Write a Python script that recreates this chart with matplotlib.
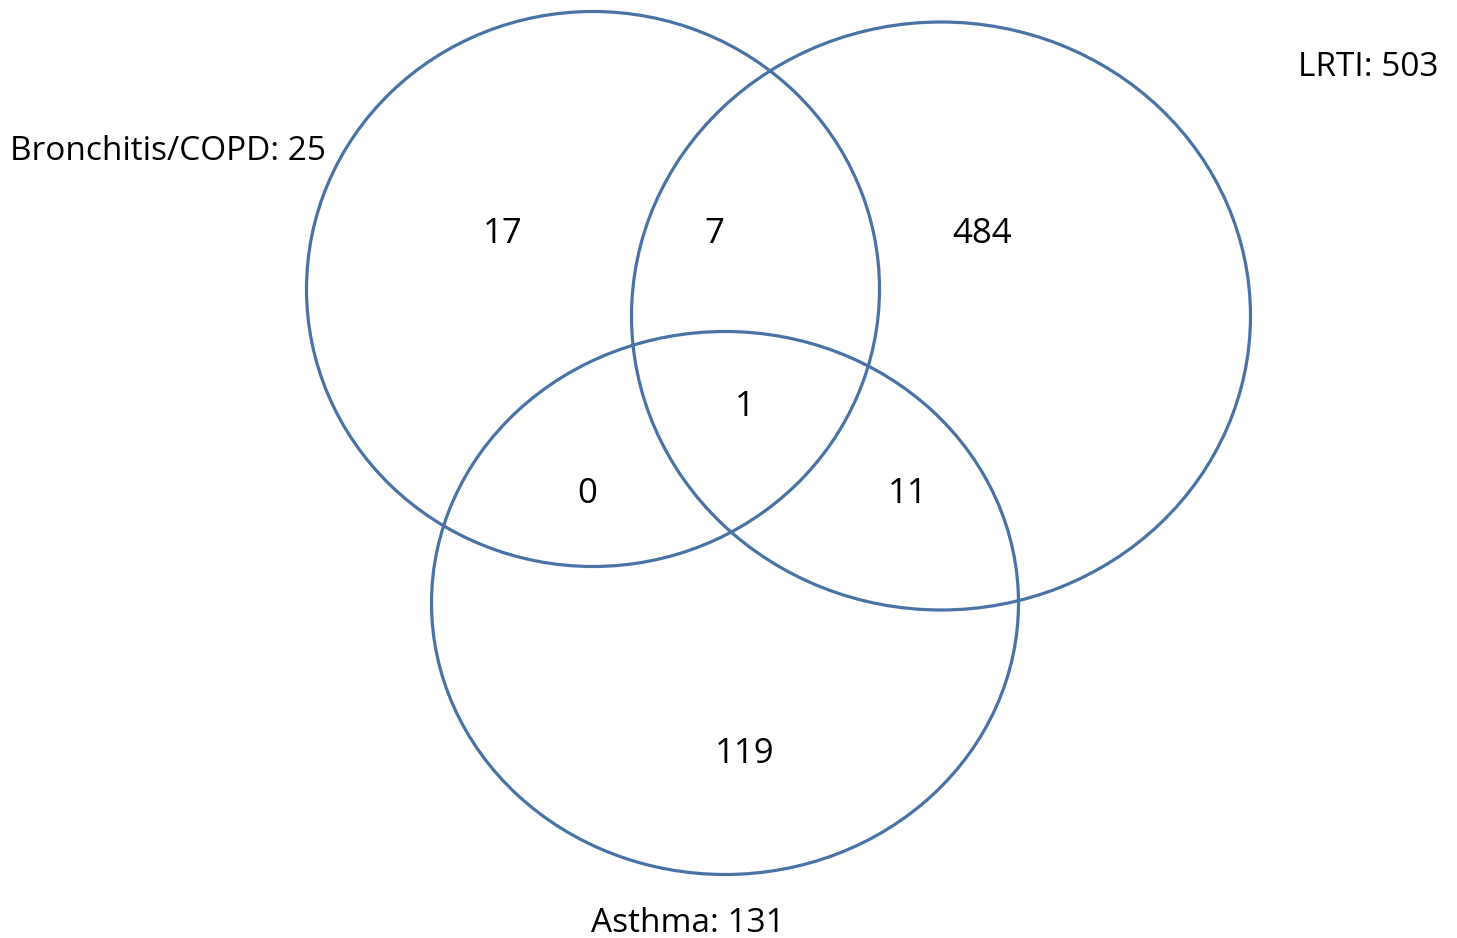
import matplotlib
matplotlib.use('Agg')
from matplotlib import pyplot as plt
from matplotlib.patches import Ellipse

# set names and sizes
set_names = ["Bronchitis/COPD", "LRTI", "Asthma"]
set_totals = [25, 503, 131]

# region counts: B only, B&L, L only, B&L&A, B&A, L&A, A only
region_counts = [17, 7, 484, 1, 0, 11, 119]

# ellipse geometry in pixel units (center x, center y, width, height)
ellipse_centers = [(593, 289), (941, 316), (725, 603)]
ellipse_sizes = [(573, 555), (619, 588), (587, 543)]

region_pos = [(503, 234), (714, 234), (982, 234), (745, 407),
              (587, 494), (908, 494), (745, 754)]
label_pos = [(10, 151, 'left'), (1438, 67, 'right'), (688, 924, 'center')]

line_color = '#4a73a5'
plt.rcParams['font.family'] = ['Open Sans', 'DejaVu Sans']

fig = plt.figure(figsize=(14.57, 9.38), dpi=100)
ax = fig.add_axes([0, 0, 1, 1])
ax.set_xlim(0, 1457)
ax.set_ylim(938, 0)
ax.set_aspect('equal')
ax.axis('off')

for (cx, cy), (w, h) in zip(ellipse_centers, ellipse_sizes):
    ax.add_patch(Ellipse((cx, cy), w, h, fill=False, edgecolor=line_color, linewidth=2.3))

for n, (x, y) in zip(region_counts, region_pos):
    ax.text(x, y, str(n), ha='center', va='center', fontsize=25, color='black')

for name, total, (x, y, ha) in zip(set_names, set_totals, label_pos):
    ax.text(x, y, f"{name}: {total}", ha=ha, va='center', fontsize=24, color='black')

fig.savefig('out.png', dpi=100)
